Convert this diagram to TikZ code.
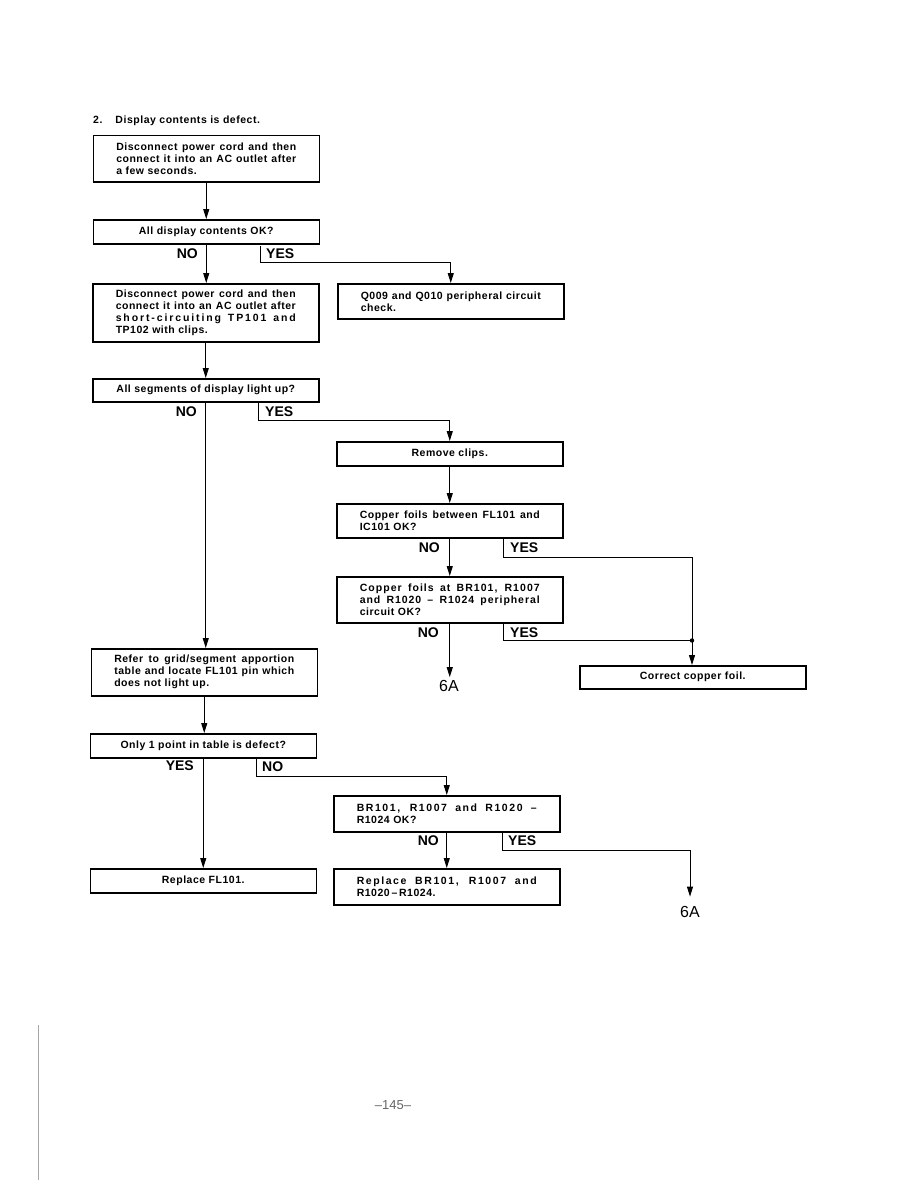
\documentclass[tikz,border=0pt]{standalone}
\usepackage{fontspec}
\setmainfont{Liberation Sans}
\newfontfamily\bx[LetterSpace=5]{Liberation Sans}
\usetikzlibrary{arrows.meta,calc}
\newcommand\jl[1]{\makebox[180pt][s]{\spaceskip=0.28em plus 1fil minus 0.1em\relax #1}}
\newcommand\wl[2]{\jl{\addfontfeature{LetterSpace=#1}#2}}
\tikzset{
  box/.style={draw, line width=1.5pt, anchor=north west, inner sep=0pt,
    font=\bx\bfseries\fontsize{10.5}{12}\selectfont, minimum width=226pt},
  lbox/.style={box, text width=180pt, align=left},
  cbox/.style={box, align=center},
  arr/.style={line width=1pt, -{Triangle[length=10pt,width=6pt]}},
  ln/.style={line width=1pt},
  lbl/.style={font=\bfseries\fontsize{14}{14}\selectfont, inner sep=0pt},
  six/.style={font=\fontsize{16}{16}\selectfont, inner xsep=0pt},
}
\begin{document}
\begin{tikzpicture}[x=1pt,y=-1pt]
\useasboundingbox (0,0) rectangle (918,1188);
\fill[white] (0,0) rectangle (918,1188);

\node[font=\bx\bfseries\fontsize{10.5}{12}\selectfont, anchor=base west, inner sep=0pt] (title) at (93,124) {2.\hspace{13pt}Display contents is defect.};

\node[lbox, minimum height=46pt] (b1) at (92.5,135) {\jl{Disconnect power cord and then}\\\jl{connect it into an AC outlet after}\\a few seconds.};
\node[cbox, minimum height=24pt] (b2) at (92.5,219) {All display contents OK?};
\node[lbox, minimum height=58pt] (b3) at (92,283) {\jl{Disconnect power cord and then}\\\jl{connect it into an AC outlet after}\\\wl{18}{short-circuiting TP101 and}\\TP102 with clips.};
\node[lbox, minimum height=35pt] (b4) at (337,283) {\jl{Q009 and Q010 peripheral circuit}\\check.};
\node[cbox, minimum height=23pt] (b5) at (92,378) {All segments of display light up?};
\node[cbox, minimum height=24pt] (b6) at (336,441) {Remove clips.};
\node[lbox, minimum height=34pt] (b7) at (336,503) {\jl{Copper foils between FL101 and}\\IC101 OK?};
\node[lbox, minimum height=46pt] (b8) at (336,576) {\wl{10}{Copper foils at BR101, R1007}\\\wl{9}{and R1020 – R1024 peripheral}\\circuit OK?};
\node[cbox, minimum height=23pt] (b9) at (579,665) {Correct copper foil.};
\node[lbox, minimum height=47pt] (b10) at (90.5,648) {\jl{Refer to grid/segment apportion}\\\jl{table and locate FL101 pin which}\\does not light up.};
\node[cbox, minimum height=24pt] (b11) at (89.5,733) {Only 1 point in table is defect?};
\node[lbox, minimum height=36pt] (b12) at (333,795) {\wl{15}{BR101, R1007 and R1020 –}\\R1024 OK?};
\node[cbox, minimum height=24pt] (b13) at (89.5,868) {Replace FL101.};
\node[lbox, minimum height=36pt] (b14) at (333,868) {\wl{15}{Replace BR101, R1007 and}\\R1020\,–\,R1024.};

\node[six, inner ysep=3pt] (sixa) at (449,686) {6A};
\node[six, inner ysep=9pt] (sixb) at (690,911.5) {6A};

% connectors
\draw[arr] (b1.south) -- (b1.south |- b2.north);
\draw[arr] (b2.south) -- (b2.south |- b3.north);
\coordinate (y2) at (260,246);
\draw[arr] (y2) -- ++(0,16.5) -| (b4.north);
\node[lbl, anchor=east] (n2) at (198,254) {NO};
\node[lbl, anchor=west] (s2) at (266,254) {YES};

\draw[arr] (b3.south) -- (b3.south |- b5.north);
\draw[arr] (b5.south) -- (b5.south |- b10.north);
\coordinate (y5) at (258,402);
\draw[arr] (y5) -- ++(0,18) -| (b6.north);
\node[lbl, anchor=east] (n5) at (197,411.5) {NO};
\node[lbl, anchor=west] (s5) at (265,411.5) {YES};

\draw[arr] (b6.south) -- (b7.north);
\draw[arr] (b7.south) -- (b8.north);
\coordinate (dot) at (692,640.5);
\coordinate (y7) at (503,538);
\draw[ln] (y7) -- ++(0,19) -| (dot);
\node[lbl, anchor=east] (n7) at (440,548) {NO};
\node[lbl, anchor=west] (s7) at (510,548) {YES};

\draw[arr] (b8.south) -- (b8.south |- sixa.north);
\coordinate (y8) at (503,623);
\draw[ln] (y8) |- (dot);
\fill (dot) circle (2.2pt);
\draw[arr] (dot) -- (dot |- b9.north);
\node[lbl, anchor=east] (n8) at (439,632.5) {NO};
\node[lbl, anchor=west] (s8) at (510,632.5) {YES};

\draw[arr] (b10.south) -- (b10.south |- b11.north);
\draw[arr] (b11.south) -- (b13.north);
\coordinate (y11) at (256,758);
\draw[arr] (y11) -- ++(0,18) -| (b12.north);
\node[lbl, anchor=east] (n11) at (194,766) {YES};
\node[lbl, anchor=west] (s11) at (262,767) {NO};

\draw[arr] (b12.south) -- (b14.north);
\coordinate (y12) at (502,832);
\draw[arr] (y12) -- ++(0,18.5) -| (sixb.north);
\node[lbl, anchor=east] (n12) at (439,840.5) {NO};
\node[lbl, anchor=west] (s12) at (508,841) {YES};

% page footer
\node[font=\fontsize{13}{13}\selectfont, text=black!60, inner sep=0pt] (pg) at (393,1105) {–145–};
\draw[black!35, line width=0.5pt] (38,1025) -- (38,1180);
\end{tikzpicture}
\end{document}
